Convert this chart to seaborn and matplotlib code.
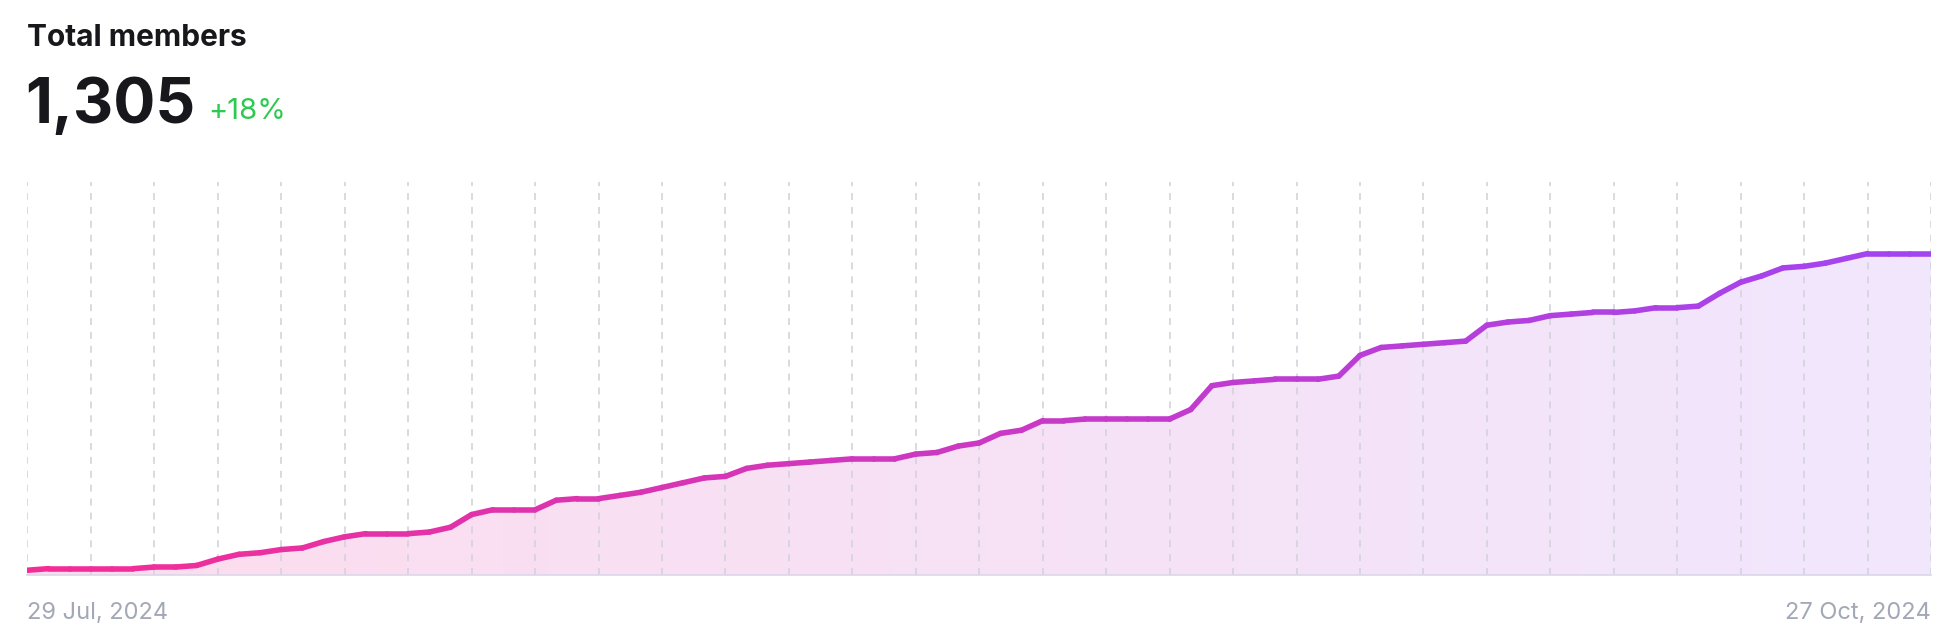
import matplotlib.pyplot as plt
import seaborn as sns
import pandas as pd
import numpy as np
from matplotlib.colors import LinearSegmentedColormap, to_hex

sns.set_style("white")
plt.rcParams['font.family'] = ['Inter', 'DejaVu Sans']
plt.rcParams['lines.scale_dashes'] = False

# dane: dzienna liczba członków
dates = pd.date_range("2024-07-29", "2024-10-27", freq="D")
members = [1106, 1107, 1107, 1107, 1107, 1107, 1108, 1108, 1109, 1113,
           1116, 1117, 1119, 1120, 1124, 1127, 1129, 1129, 1129, 1130,
           1133, 1141, 1144, 1144, 1144, 1150, 1151, 1151, 1153, 1155,
           1158, 1161, 1164, 1165, 1170, 1172, 1173, 1174, 1175, 1176,
           1176, 1176, 1179, 1180, 1184, 1186, 1192, 1194, 1200, 1200,
           1201, 1201, 1201, 1201, 1201, 1207, 1222, 1224, 1225, 1226,
           1226, 1226, 1228, 1241, 1246, 1247, 1248, 1249, 1250, 1260,
           1262, 1263, 1266, 1267, 1268, 1268, 1269, 1271, 1271, 1272,
           1280, 1287, 1291, 1296, 1297, 1299, 1302, 1305, 1305, 1305, 1305]
title = "Total members"
growth = "+18%"

days = np.arange(len(members))
y_min, y_max = 1103, 1350

fig = plt.figure(figsize=(19.56, 6.42), dpi=100)
ax = fig.add_axes([27.5 / 1956, 67 / 642, 1903.5 / 1956, 393 / 642])

line_cmap = LinearSegmentedColormap.from_list("line", ["#f42d95", "#a244f2"])
fill_cmap = LinearSegmentedColormap.from_list("fill", ["#fddcee", "#f1e7fd"])

# linia z gradientem - każdy odcinek osobno
rows = []
for i in range(len(members) - 1):
    for j in (i, i + 1):
        rows.append({"day": days[j], "members": members[j], "seg": i})
seg_df = pd.DataFrame(rows)
n_seg = len(members) - 1
palette = {i: to_hex(line_cmap(i / (n_seg - 1))) for i in range(n_seg)}
sns.lineplot(data=seg_df, x="day", y="members", hue="seg", palette=palette,
             legend=False, linewidth=4, solid_capstyle="round", ax=ax, zorder=3)

# wypełnienie z gradientem
fill = ax.fill_between(days, members, y_min, color="none", lw=0)
grad = np.linspace(0, 1, 256).reshape(1, -1)
img = ax.imshow(grad, cmap=fill_cmap, extent=[days[0], days[-1], y_min, y_max],
                aspect="auto", origin="lower", zorder=1)
img.set_clip_path(fill.get_paths()[0], transform=ax.transData)

ax.set_xticks(days[::3])
ax.grid(axis="x", color="#d3d3dc", lw=1.2, ls=(0, (5, 5)))
ax.grid(axis="y", visible=False)
ax.set_axisbelow("line")
ax.set_xlim(days[0], days[-1])
ax.set_ylim(y_min, y_max)
ax.tick_params(length=0, labelbottom=False, labelleft=False)
ax.set_xlabel("")
ax.set_ylabel("")
sns.despine(ax=ax, left=True, top=True, right=True)
ax.spines["bottom"].set_color("#dcd7e9")
ax.spines["bottom"].set_linewidth(1.2)

fig.text(27 / 1956, 1 - 46 / 642, title, fontsize=21.5, fontweight="bold",
         color="#17171c", va="baseline")
fig.text(25 / 1956, 1 - 122.7 / 642, f"{members[-1]:,}", fontsize=45,
         fontweight="bold", color="#17171c", va="baseline")
fig.text(208 / 1956, 1 - 119.3 / 642, growth, fontsize=21, color="#2ec94f",
         va="baseline")

def fmt(d):
    return f"{d.day} {d:%b, %Y}"

fig.text(27.5 / 1956, 1 - 619 / 642, fmt(dates[0]), fontsize=17,
         color="#a2a8b5", va="baseline", ha="left")
fig.text(1931 / 1956, 1 - 619 / 642, fmt(dates[-1]), fontsize=17,
         color="#a2a8b5", va="baseline", ha="right")

fig.savefig("out.png", dpi=100, facecolor="white")
